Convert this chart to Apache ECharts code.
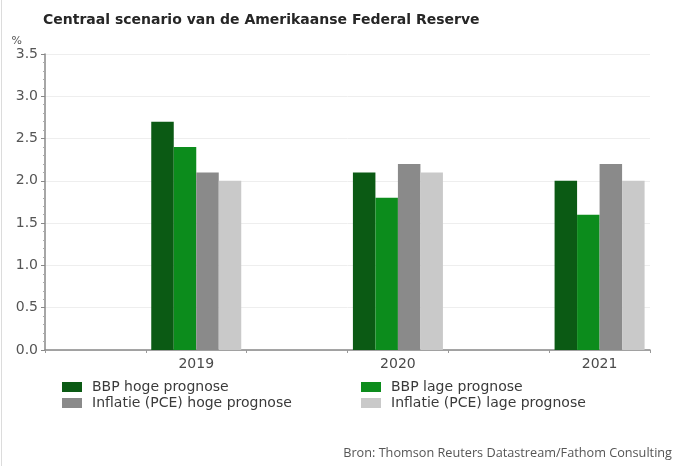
<!DOCTYPE html>
<html lang="nl">

<head>
    <meta charset="UTF-8">
    <title>Centraal scenario van de Amerikaanse Federal Reserve</title>
    <script src="https://cdn.jsdelivr.net/npm/echarts@6/dist/echarts.min.js"></script>
    <style>
        * {
            margin: 0;
            padding: 0;
        }
        body {
            background-color: #fff;
        }
        #box1 {
            width: 681px;
            height: 466px;
        }
    </style>
</head>

<body>
    <div id="box1"></div>
    <script>
        // data
        var years = ['2019', '2020', '2021'];
        var bbpHoog = [2.7, 2.1, 2.0];
        var bbpLaag = [2.4, 1.8, 1.6];
        var pceHoog = [2.1, 2.2, 2.2];
        var pceLaag = [2.0, 2.1, 2.0];
        var yTicks = [0, 0.5, 1, 1.5, 2, 2.5, 3, 3.5];

        var names = ['BBP hoge prognose', 'BBP lage prognose', 'Inflatie (PCE) hoge prognose', 'Inflatie (PCE) lage prognose'];
        var colors = ['#0b5a14', '#0c8c1c', '#8a8a8a', '#c9c9c9'];

        // every year sits behind an empty slot on the axis
        var cats = [];
        years.forEach(function (y) { cats.push('', y); });
        function pad(arr) {
            var out = [];
            arr.forEach(function (v) { out.push(null, v); });
            return out;
        }

        var series = [bbpHoog, bbpLaag, pceHoog, pceLaag].map(function (arr, i) {
            return {
                name: names[i],
                type: 'bar',
                data: pad(arr),
                barWidth: 22.5,
                barGap: 0,
                itemStyle: { color: colors[i] }
            };
        });

        var legendText = { fontFamily: 'DejaVu Sans', fontSize: 14, color: '#3a3a3a', padding: [0, 0, 0, 5] };

        var option = {
            backgroundColor: '#fff',
            animation: false,
            title: {
                text: 'Centraal scenario van de Amerikaanse Federal Reserve',
                left: 38,
                top: 8,
                textStyle: {
                    fontFamily: 'DejaVu Sans',
                    fontSize: 14,
                    fontWeight: 'bold',
                    color: '#262626'
                }
            },
            legend: [{
                data: [names[0], names[2]],
                orient: 'vertical',
                left: 57,
                top: 375,
                itemWidth: 20,
                itemHeight: 10,
                itemGap: 2,
                icon: 'rect',
                textStyle: legendText
            }, {
                data: [names[1], names[3]],
                orient: 'vertical',
                left: 356,
                top: 375,
                itemWidth: 20,
                itemHeight: 10,
                itemGap: 2,
                icon: 'rect',
                textStyle: legendText
            }],
            grid: {
                left: 45,
                right: 31,
                top: 54,
                bottom: 116
            },
            xAxis: {
                type: 'category',
                data: cats,
                axisLine: { lineStyle: { color: '#888', width: 1.5 } },
                axisTick: { show: true, interval: 0, length: 3, lineStyle: { color: '#999' } },
                axisLabel: {
                    interval: 0,
                    margin: 7,
                    fontFamily: 'DejaVu Sans',
                    fontSize: 14,
                    color: '#4a4a4a'
                }
            },
            yAxis: {
                type: 'value',
                name: '%',
                nameGap: 7,
                nameTextStyle: { fontFamily: 'DejaVu Sans', fontSize: 11, color: '#555', align: 'right', padding: [0, 23, 0, 0] },
                min: yTicks[0],
                max: yTicks[yTicks.length - 1],
                interval: 0.5,
                axisLine: { show: true, lineStyle: { color: '#888', width: 1.5 } },
                axisTick: { show: true, length: 4, lineStyle: { color: '#888' } },
                minorTick: { show: true, splitNumber: 5, length: 2, lineStyle: { color: '#aaa' } },
                splitLine: { lineStyle: { color: '#eeeeee' } },
                axisLabel: {
                    margin: 7,
                    fontFamily: 'DejaVu Sans',
                    fontSize: 14,
                    color: '#555',
                    formatter: function (v) { return v.toFixed(1); }
                }
            },
            graphic: [{
                type: 'text',
                right: 9,
                top: 447,
                style: {
                    text: 'Bron: Thomson Reuters Datastream/Fathom Consulting',
                    font: '12.7px "Open Sans"',
                    fill: '#555'
                }
            }, {
                type: 'line',
                shape: { x1: 1.5, y1: 0, x2: 1.5, y2: 466 },
                style: { stroke: '#dcdcdc', lineWidth: 1 }
            }],
            series: series
        };
        echarts.init(document.querySelector('#box1')).setOption(option);
    </script>
</body>

</html>
